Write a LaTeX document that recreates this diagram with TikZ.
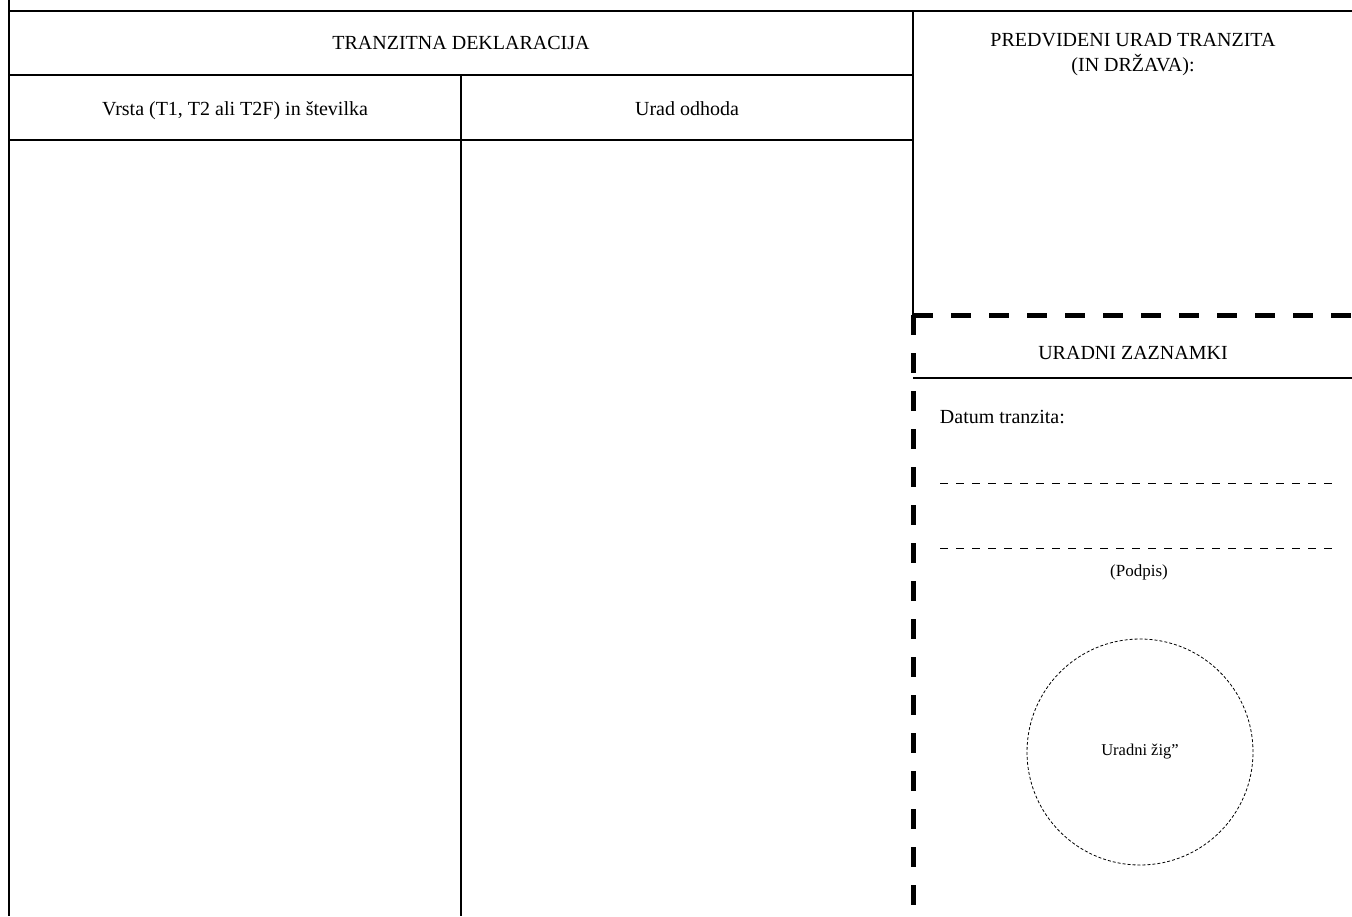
\documentclass[tikz,border=0pt]{standalone}
\usepackage{fontspec}
\setmainfont{Liberation Serif}

\begin{document}
\begin{tikzpicture}[x=1pt, y=-1pt, line width=1.2pt, font=\fontsize{20}{25}\selectfont]
    \useasboundingbox (0,0) rectangle (1352,916);
    \tikzset{
        heavydash/.style={line width=5pt, dash pattern=on 20pt off 18pt},
        fillin/.style={line width=1pt, dash pattern=on 8pt off 8pt},
        stampline/.style={line width=0.8pt, dash pattern=on 3pt off 2pt},
        small/.style={font=\fontsize{17}{20}\selectfont}
    }
    % frame and table rules
    \draw (9,0) -- (9,916);
    \draw (9,11) -- (1352,11);
    \draw (9,75) -- (913,75);
    \draw (9,140) -- (913,140);
    \draw (461,75) -- (461,916);
    \draw (913,11) -- (913,315);
    \draw (913,378) -- (1352,378);

    \node[anchor=base] (decl) at (461,49) {TRANZITNA DEKLARACIJA};
    \node[anchor=base] (type) at (235,115) {Vrsta (T1, T2 ali T2F) in številka};
    \node[anchor=base] (dep) at (687,115) {Urad odhoda};
    \node[align=center] (office) at (1133,55) {PREDVIDENI URAD TRANZITA\\(IN DRŽAVA):};

    % cut-off part
    \draw[heavydash] (913,315) -- (1352,315);
    \draw[heavydash] (913,315) -- (913,916);
    \node[anchor=base] (notes) at (1133,359) {URADNI ZAZNAMKI};
    \node[anchor=base west] (date) at (936,423) {Datum tranzita:};
    \draw[fillin] (940,483) -- (1335,483);
    \draw[fillin] (940,548) -- (1335,548);
    \node[small, anchor=base] (sign) at (1139,576) {(Podpis)};
    \node[small, font=\fontsize{16.5}{20}\selectfont, circle, draw, stampline, minimum size=226pt] (stamp) at (1140,752) {Uradni žig”};
\end{tikzpicture}
\end{document}
